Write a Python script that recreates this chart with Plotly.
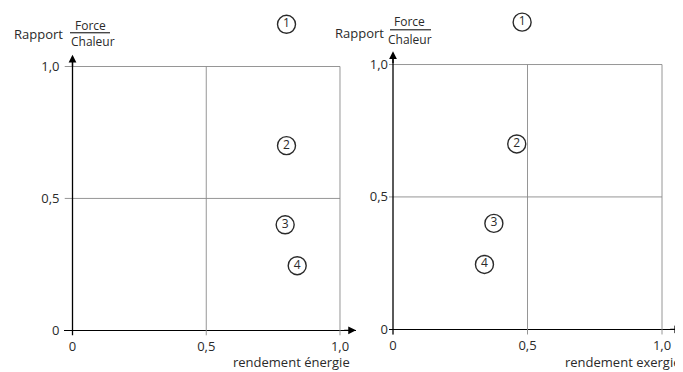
import plotly.graph_objects as go

# ---- data ----
point_labels = ["1", "2", "3", "4"]
ratio_force_chaleur = [1.16, 0.70, 0.40, 0.245]
rendement_energie = [0.80, 0.80, 0.795, 0.84]
rendement_exergie = [0.48, 0.46, 0.375, 0.34]
tick_vals = [0, 0.5, 1.0]
tick_text = ["0", "0,5", "1,0"]
x_titles = ["rendement énergie", "rendement exergie"]

OFF = 8  # default page body margin
W, H = 683 - OFF, 372 - OFF
FONT = "Open Sans"
INK = "#2a2a2a"
GRID = "#8a8a8a"

# panel geometry in window pixels: origin and pixels per unit
panels = [
    dict(x0=72.5, xs=267.5, y0=333, ys=266, xr=(-0.03, 1.06), yr=(-0.02, 1.2), ytip=1.045, ystand=4),
    dict(x0=393, xs=269, y0=332, ys=267, xr=(-0.015, 1.075), yr=(-0.02, 1.2), ytip=1.05, ystand=0),
]

def clamp(v):
    return max(0.0, min(1.0, v))

def px(x):
    return (x - OFF) / W

def py(y):
    return 1 - (y - OFF) / H

fig = go.Figure()
shapes = []
annotations = []

for i, (p, xvals) in enumerate(zip(panels, [rendement_energie, rendement_exergie])):
    n = "" if i == 0 else "2"
    xa = "x" + n
    ya = "y" + n
    left = p["x0"] + p["xr"][0] * p["xs"]
    right = p["x0"] + p["xr"][1] * p["xs"]
    bottom = p["y0"] - p["yr"][0] * p["ys"]
    top = p["y0"] - p["yr"][1] * p["ys"]
    common = dict(showgrid=False, showline=False, ticks="", fixedrange=True,
                  tickfont=dict(family=FONT, size=13, color=INK))
    fig.update_layout(**{
        "xaxis" + n: dict(domain=[clamp(px(left)), clamp(px(right))], range=list(p["xr"]), anchor=ya,
                          tickvals=tick_vals, ticktext=tick_text, zeroline=False,
                          ticklabelstandoff=1, **common),
        "yaxis" + n: dict(domain=[clamp(py(bottom)), clamp(py(top))], range=list(p["yr"]), anchor=xa,
                          tickvals=tick_vals, ticktext=tick_text, zeroline=True,
                          zerolinecolor="black", zerolinewidth=1.3,
                          ticklabelstandoff=p["ystand"], **common),
    })
    fig.add_trace(go.Scatter(
        x=xvals, y=ratio_force_chaleur, xaxis=xa, yaxis=ya,
        mode="markers+text", text=point_labels, textposition="middle center",
        textfont=dict(family=FONT, size=12, color=INK),
        marker=dict(symbol="circle-open", size=18, color=INK, line=dict(width=1.4)),
        cliponaxis=False, showlegend=False, hoverinfo="skip"))
    # grid / frame lines
    lx = p["xr"][0]
    ly = p["yr"][0]
    for (xa0, ya0, xa1, ya1) in [(lx, 0.5, 1, 0.5), (lx, 1, 1, 1), (0.5, ly, 0.5, 1), (1, ly, 1, 1)]:
        shapes.append(dict(type="line", xref=xa, yref=ya, x0=xa0, y0=ya0, x1=xa1, y1=ya1,
                           line=dict(color=GRID, width=0.9)))
    # vertical axis line
    shapes.append(dict(type="line", xref=xa, yref=ya, x0=0, y0=ly, x1=0, y1=p["ytip"] - 0.02,
                       line=dict(color="black", width=1.3)))
    # arrows
    annotations.append(dict(xref=xa, yref=ya, axref=xa, ayref=ya, x=p["xr"][1], y=0,
                            ax=p["xr"][1] - 0.05, ay=0, text="", showarrow=True, standoff=0,
                            arrowhead=2, arrowsize=1.2, arrowwidth=1.3, arrowcolor="black"))
    annotations.append(dict(xref=xa, yref=ya, axref=xa, ayref=ya, x=0, y=p["ytip"],
                            ax=0, ay=p["ytip"] - 0.05, text="", showarrow=True, standoff=0,
                            arrowhead=2, arrowsize=1.2, arrowwidth=1.3, arrowcolor="black"))
    # x axis title
    annotations.append(dict(xref="paper", yref="paper", x=clamp(px(right - 4 if i == 0 else right + 2)),
                            y=py(364.5), xanchor="right", yanchor="middle", showarrow=False,
                            text=x_titles[i], font=dict(family=FONT, size=13, color=INK)))

# y axis title pieces: Rapport Force/Chaleur
label_pos = [
    dict(rap=(38, 34), frc=(90, 26), line=(70, 110, 33), cha=(93, 42)),
    dict(rap=(360, 33), frc=(410, 22), line=(390, 431, 30), cha=(410, 40)),
]
for lp in label_pos:
    annotations.append(dict(xref="paper", yref="paper", x=px(lp["rap"][0]), y=py(lp["rap"][1]),
                            showarrow=False, text="Rapport", xanchor="center", yanchor="middle",
                            font=dict(family=FONT, size=13, color=INK)))
    annotations.append(dict(xref="paper", yref="paper", x=px(lp["frc"][0]), y=py(lp["frc"][1]),
                            showarrow=False, text="Force", xanchor="center", yanchor="middle",
                            font=dict(family=FONT, size=12, color=INK)))
    annotations.append(dict(xref="paper", yref="paper", x=px(lp["cha"][0]), y=py(lp["cha"][1]),
                            showarrow=False, text="Chaleur", xanchor="center", yanchor="middle",
                            font=dict(family=FONT, size=12, color=INK)))
    shapes.append(dict(type="line", xref="paper", yref="paper",
                       x0=px(lp["line"][0]), x1=px(lp["line"][1]),
                       y0=py(lp["line"][2]), y1=py(lp["line"][2]),
                       line=dict(color="black", width=1)))

fig.update_layout(width=W, height=H, margin=dict(l=0, r=0, t=0, b=0),
                  paper_bgcolor="white", plot_bgcolor="white",
                  shapes=shapes, annotations=annotations)

fig.write_html("out.html")
